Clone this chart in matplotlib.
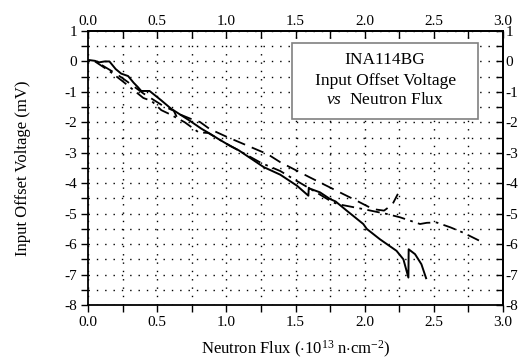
import matplotlib
matplotlib.use("Agg")
from matplotlib import pyplot as plt
from matplotlib.patches import Rectangle
from matplotlib.ticker import MultipleLocator

plt.rcParams['font.family'] = ['Liberation Serif', 'DejaVu Serif']
plt.rcParams['mathtext.fontset'] = 'custom'
plt.rcParams['mathtext.rm'] = 'Liberation Serif'
plt.rcParams['mathtext.it'] = 'Liberation Serif:italic'
plt.rcParams['axes.unicode_minus'] = False

# solid curve
solid_x = [0.0, 0.05, 0.08, 0.12, 0.155, 0.20, 0.24, 0.29, 0.33, 0.36, 0.385, 0.445,
           0.53, 0.60, 0.675, 0.73, 0.82, 0.88, 0.94, 1.03, 1.09, 1.27, 1.39, 1.51,
           1.593, 1.596, 1.605, 1.677, 1.75, 1.79, 1.87, 1.99, 2.015, 2.11, 2.23,
           2.28, 2.316, 2.318, 2.364, 2.41, 2.444]
solid_y = [0.05, 0.02, -0.03, 0.0, 0.0, -0.25, -0.40, -0.48, -0.70, -0.84, -0.97, -0.97,
           -1.28, -1.55, -1.77, -1.93, -2.21, -2.37, -2.54, -2.78, -2.92, -3.47, -3.72, -4.08,
           -4.41, -4.15, -4.18, -4.30, -4.52, -4.60, -4.90, -5.34, -5.50, -5.84, -6.22,
           -6.50, -7.10, -6.17, -6.33, -6.66, -7.12]

# dashed curve
dash_x = [0.10, 0.18, 0.25, 0.40, 0.55, 0.62, 0.65, 0.67, 0.74, 0.81, 0.88, 1.00, 1.17,
          1.30, 1.39, 1.60, 1.82, 1.94, 2.06, 2.14, 2.20, 2.24]
dash_y = [-0.12, -0.34, -0.55, -1.05, -1.48, -1.62, -1.90, -1.75, -1.88, -1.99, -2.22,
          -2.47, -2.80, -3.05, -3.31, -3.80, -4.30, -4.57, -4.85, -4.90, -4.70, -4.35]

# dash-dot curve
dd_x = [0.05, 0.15, 0.25, 0.40, 0.46, 0.53, 0.59, 0.70, 0.80, 0.87, 1.00, 1.10, 1.25,
        1.39, 1.50, 1.65, 1.77, 1.82, 1.99, 2.16, 2.256, 2.40, 2.45, 2.52, 2.62, 2.71, 2.83]
dd_y = [0.0, -0.30, -0.65, -1.20, -1.30, -1.60, -1.73, -2.00, -2.33, -2.35, -2.70, -2.95,
        -3.33, -3.60, -3.90, -4.30, -4.63, -4.70, -4.85, -5.01, -5.12, -5.34, -5.30, -5.29,
        -5.45, -5.62, -5.89]

TICKSIZE = 11
LABELSIZE = 12
BOXSIZE = 12.5

fig = plt.figure(figsize=(5.26, 3.63), dpi=100)
ax = fig.add_axes([0.1673, 0.1598, 0.789, 0.7548])

ax.plot(solid_x, solid_y, color='black', lw=1.4, ls='-')
ax.plot(dash_x, dash_y, color='black', lw=1.3, ls=(0, (7, 4)))
ax.plot(dd_x, dd_y, color='black', lw=1.3, ls=(0, (7, 3, 1.5, 3)))

ax.set_xlim(0, 3)
ax.set_ylim(-8, 1)


def setup_locators(axis_x, axis_y):
    if axis_x is not None:
        axis_x.set_major_locator(MultipleLocator(0.5))
        axis_x.set_minor_locator(MultipleLocator(0.25))
        axis_x.set_major_formatter(lambda v, p: "%.1f" % v)
    if axis_y is not None:
        axis_y.set_major_locator(MultipleLocator(1))
        axis_y.set_minor_locator(MultipleLocator(0.5))
        axis_y.set_major_formatter(lambda v, p: "%d" % v)


setup_locators(ax.xaxis, ax.yaxis)

ax.grid(True, which='both', color='black', ls=(0, (1, 5)), lw=1.0)
ax.set_axisbelow(True)

ax.tick_params(which='both', labelsize=TICKSIZE, direction='out', length=5, width=1, pad=3)

# top and right: ticks pointing inward
top = ax.secondary_xaxis('top')
right = ax.secondary_yaxis('right')
setup_locators(top.xaxis, None)
setup_locators(None, right.yaxis)
top.tick_params(which='both', labelsize=TICKSIZE, direction='in', length=5, width=1, pad=2)
right.tick_params(which='both', labelsize=TICKSIZE, direction='in', length=5, width=1, pad=2)
top.spines['top'].set_linewidth(1.3)
right.spines['right'].set_linewidth(1.3)
for s in ax.spines.values():
    s.set_linewidth(1.3)

ax.set_xlabel(r"Neutron Flux ($\cdot$10$^{13}$ n$\cdot$cm$^{-2}$)", fontsize=LABELSIZE, labelpad=7)
ax.set_ylabel("Input Offset Voltage (mV)", fontsize=LABELSIZE, labelpad=24)

ax.add_patch(Rectangle((0.4916, 0.679), 0.4484, 0.277, transform=ax.transAxes,
                       facecolor='white', edgecolor='#808080', lw=1.2, zorder=5))
ax.text(0.716, 0.894, "INA114BG", transform=ax.transAxes, ha='center', va='center',
        fontsize=BOXSIZE, zorder=6)
ax.text(0.716, 0.818, "Input Offset Voltage", transform=ax.transAxes, ha='center',
        va='center', fontsize=BOXSIZE, zorder=6)
ax.text(0.716, 0.748, r"$\it{vs}$  Neutron Flux", transform=ax.transAxes, ha='center',
        va='center', fontsize=BOXSIZE, zorder=6)

plt.savefig("out.png", dpi=100)
